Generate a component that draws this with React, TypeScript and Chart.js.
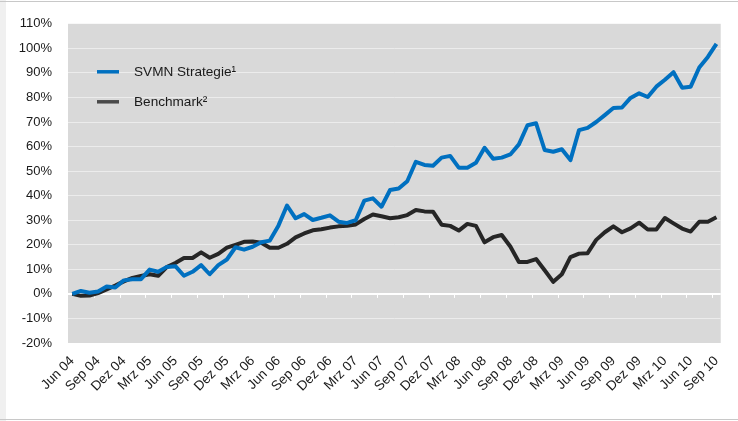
import React, { useEffect, useRef } from "react";
import { Chart, registerables } from "chart.js";

Chart.register(...registerables);

const categories: string[] = [
  "Jun 04", "Jul 04", "Aug 04", "Sep 04", "Okt 04", "Nov 04", "Dez 04",
  "Jan 05", "Feb 05", "Mrz 05", "Apr 05", "Mai 05", "Jun 05", "Jul 05", "Aug 05", "Sep 05", "Okt 05", "Nov 05", "Dez 05",
  "Jan 06", "Feb 06", "Mrz 06", "Apr 06", "Mai 06", "Jun 06", "Jul 06", "Aug 06", "Sep 06", "Okt 06", "Nov 06", "Dez 06",
  "Jan 07", "Feb 07", "Mrz 07", "Apr 07", "Mai 07", "Jun 07", "Jul 07", "Aug 07", "Sep 07", "Okt 07", "Nov 07", "Dez 07",
  "Jan 08", "Feb 08", "Mrz 08", "Apr 08", "Mai 08", "Jun 08", "Jul 08", "Aug 08", "Sep 08", "Okt 08", "Nov 08", "Dez 08",
  "Jan 09", "Feb 09", "Mrz 09", "Apr 09", "Mai 09", "Jun 09", "Jul 09", "Aug 09", "Sep 09", "Okt 09", "Nov 09", "Dez 09",
  "Jan 10", "Feb 10", "Mrz 10", "Apr 10", "Mai 10", "Jun 10", "Jul 10", "Aug 10", "Sep 10",
];

const svmnStrategie: number[] = [
  0, 1.2, 0.5, 1, 3, 2.6, 5.5, 6, 6, 9.9, 9, 11,
  11.3, 7.4, 9, 11.7, 8, 11.7, 14, 19, 18, 19.2, 21, 21.7,
  27.8, 36, 30.8, 32.5, 30.1, 31, 32, 29.4, 28.9, 30, 38, 38.9,
  35.5, 42.3, 42.9, 45.9, 53.8, 52.5, 52.2, 55.5, 56.2, 51.4, 51.4, 53.4,
  59.5, 55, 55.5, 56.8, 60.9, 68.7, 69.5, 58.6, 57.9, 58.9, 54.5, 66.7,
  67.6, 70, 72.8, 75.7, 75.9, 79.8, 81.7, 80.2, 84.4, 87.2, 90.3, 84,
  84.4, 92.2, 96.5, 101.8,
];

const benchmark: number[] = [
  0, -0.8, -0.7, 0.3, 1.8, 3.4, 5.1, 6.5, 7.3, 8, 7.4, 10.9,
  12.6, 14.6, 14.6, 16.9, 14.7, 16.3, 18.8, 20, 21.2, 21.3, 20.8, 18.8,
  18.8, 20.4, 23, 24.6, 25.9, 26.3, 27, 27.5, 27.7, 28.3, 30.5, 32.3,
  31.6, 30.8, 31.2, 32.1, 34.2, 33.6, 33.5, 28.2, 27.7, 25.8, 28.5, 27.7,
  21, 23.1, 24, 19.3, 13, 13, 14.2, 9.6, 4.9, 8, 15, 16.4,
  16.6, 22, 25.1, 27.5, 25.1, 26.7, 29, 26.2, 26.2, 30.9, 28.7, 26.6,
  25.4, 29.4, 29.4, 31.2,
];

const seriesNames: string[] = ["SVMN Strategie\u00B9", "Benchmark\u00B2"];
const seriesColors: string[] = ["#0070c0", "#262626"];

const FONT = "'Liberation Sans', Arial, sans-serif";

const bgPlugin = {
  id: "plotBg",
  beforeDraw(chart: any) {
    const { ctx, chartArea } = chart;
    ctx.save();
    ctx.fillStyle = "#d9d9d9";
    ctx.fillRect(chartArea.left, chartArea.top, chartArea.right - chartArea.left, chartArea.bottom - chartArea.top);
    ctx.restore();
  },
  beforeDatasetsDraw(chart: any) {
    const { ctx } = chart;
    const xs = chart.scales.x;
    const ys = chart.scales.y;
    const zeroY = ys.getPixelForValue(0);
    ctx.save();
    ctx.strokeStyle = "#ffffff";
    ctx.lineWidth = 1;
    for (let i = 2; i < categories.length - 1; i += 3) {
      const x = Math.round((xs.getPixelForValue(i) + xs.getPixelForValue(i + 1)) / 2) + 0.5;
      ctx.beginPath();
      ctx.moveTo(x, zeroY);
      ctx.lineTo(x, zeroY + 4);
      ctx.stroke();
    }
    ctx.restore();
  },
};

const legendPlugin = {
  id: "innerLegend",
  afterDatasetsDraw(chart: any) {
    const { ctx, chartArea } = chart;
    ctx.save();
    chart.data.datasets.forEach((ds: any, i: number) => {
      const y = chartArea.top + 48 + i * 30;
      ctx.strokeStyle = i === 1 ? "#4a4a4a" : ds.borderColor;
      ctx.lineWidth = 3.5;
      ctx.beginPath();
      ctx.moveTo(chartArea.left + 29, y);
      ctx.lineTo(chartArea.left + 51, y);
      ctx.stroke();
      ctx.fillStyle = "#1a1a1a";
      ctx.font = `13.6px ${FONT}`;
      ctx.textBaseline = "middle";
      ctx.textAlign = "left";
      ctx.fillText(ds.label, chartArea.left + 66, y);
    });
    ctx.restore();
  },
};

export default function App() {
  const canvasRef = useRef<HTMLCanvasElement | null>(null);

  useEffect(() => {
    document.body.style.margin = "0";
    const canvas = canvasRef.current;
    if (!canvas) return;
    const chart = new Chart(canvas, {
      type: "line",
      data: {
        labels: categories,
        datasets: [
          {
            label: seriesNames[0],
            data: svmnStrategie,
            borderColor: seriesColors[0],
            backgroundColor: seriesColors[0],
            borderWidth: 4,
            pointRadius: 0,
            tension: 0,
            borderJoinStyle: "round",
          },
          {
            label: seriesNames[1],
            data: benchmark,
            borderColor: seriesColors[1],
            backgroundColor: seriesColors[1],
            borderWidth: 4,
            pointRadius: 0,
            tension: 0,
            borderJoinStyle: "round",
          },
        ],
      },
      options: {
        animation: false,
        responsive: true,
        maintainAspectRatio: false,
        layout: { padding: { left: 0, top: 22, right: 16, bottom: 0 } },
        plugins: {
          legend: { display: false },
          tooltip: { enabled: false },
        },
        scales: {
          x: {
            type: "category",
            offset: true,
            grid: { display: false, drawTicks: false },
            border: { display: false },
            ticks: {
              autoSkip: false,
              maxRotation: 45,
              minRotation: 45,
              padding: 10,
              color: "#1a1a1a",
              font: { family: FONT, size: 13.5 },
              callback: (_v: any, i: number) => (i % 3 === 0 ? categories[i] : ""),
            },
            afterFit: (scale: any) => {
              scale.height = 78;
            },
          },
          y: {
            min: -20,
            max: 110,
            border: { display: false },
            grid: {
              drawTicks: false,
              color: (c: any) => {
                const v = c.tick ? c.tick.value : null;
                if (v === 0) return "#ffffff";
                if (v === 110 || v === -20) return "rgba(0,0,0,0)";
                return "#ececec";
              },
              lineWidth: (c: any) => (c.tick && c.tick.value === 0 ? 2 : 1),
            },
            ticks: {
              stepSize: 10,
              padding: 16,
              color: "#1a1a1a",
              font: { family: FONT, size: 13 },
              callback: (v: any) => `${v}%`,
            },
            afterFit: (scale: any) => {
              scale.width = 68;
            },
          },
        },
      },
      plugins: [bgPlugin, legendPlugin],
    } as any);
    return () => chart.destroy();
  }, []);

  return (
    <div style={{ position: "relative", width: 738, height: 421, background: "#ffffff", overflow: "hidden" }}>
      <div style={{ position: "absolute", left: 0, top: 0, width: 6, height: 421, background: "#f0f0f0" }} />
      <div style={{ position: "absolute", left: 0, top: 1, width: 738, height: 1, background: "#c8c8c8" }} />
      <div style={{ position: "absolute", left: 0, top: 419, width: 738, height: 1, background: "#c8c8c8" }} />
      <div style={{ position: "absolute", left: 0, top: 0, width: 738, height: 421 }}>
        <canvas ref={canvasRef} />
      </div>
    </div>
  );
}
